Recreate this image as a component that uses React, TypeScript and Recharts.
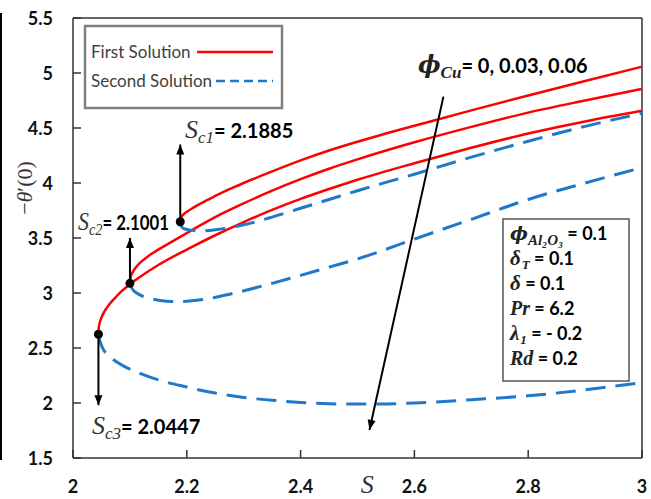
import React from "react";
import { ComposedChart, Line, XAxis, YAxis, ReferenceLine, ReferenceDot } from "recharts";

type P = { s: number; v: number };

// ---------- axis ticks ----------
const xTicks = [2, 2.2, 2.4, 2.6, 2.8, 3];
const yTicks = [1.5, 2, 2.5, 3, 3.5, 4, 4.5, 5, 5.5];

// ---------- first solutions (red, solid) ----------
const firstSolutionSc1: P[] = [
  { s: 2.1885, v: 3.648 }, { s: 2.189, v: 3.672 }, { s: 2.191, v: 3.695 }, { s: 2.195, v: 3.718 },
  { s: 2.2, v: 3.738 }, { s: 2.21, v: 3.772 }, { s: 2.225, v: 3.816 }, { s: 2.25, v: 3.882 },
  { s: 2.275, v: 3.944 }, { s: 2.3, v: 4.0 }, { s: 2.35, v: 4.105 }, { s: 2.4, v: 4.205 },
  { s: 2.45, v: 4.295 }, { s: 2.5, v: 4.375 }, { s: 2.55, v: 4.45 }, { s: 2.6, v: 4.52 },
  { s: 2.7, v: 4.66 }, { s: 2.8, v: 4.795 }, { s: 2.9, v: 4.927 }, { s: 3, v: 5.057 },
];
const firstSolutionSc2: P[] = [
  { s: 2.1001, v: 3.088 }, { s: 2.1006, v: 3.12 }, { s: 2.102, v: 3.155 }, { s: 2.105, v: 3.19 },
  { s: 2.11, v: 3.23 }, { s: 2.12, v: 3.285 }, { s: 2.135, v: 3.345 }, { s: 2.155, v: 3.41 },
  { s: 2.18, v: 3.485 }, { s: 2.21, v: 3.575 }, { s: 2.25, v: 3.69 }, { s: 2.3, v: 3.815 },
  { s: 2.35, v: 3.93 }, { s: 2.4, v: 4.035 }, { s: 2.45, v: 4.13 }, { s: 2.5, v: 4.215 },
  { s: 2.6, v: 4.37 }, { s: 2.7, v: 4.51 }, { s: 2.8, v: 4.64 }, { s: 2.9, v: 4.75 }, { s: 3, v: 4.855 },
];
const firstSolutionSc3: P[] = [
  { s: 2.0447, v: 2.625 }, { s: 2.0452, v: 2.68 }, { s: 2.047, v: 2.73 }, { s: 2.05, v: 2.775 },
  { s: 2.055, v: 2.83 }, { s: 2.062, v: 2.885 }, { s: 2.072, v: 2.945 }, { s: 2.085, v: 3.015 },
  { s: 2.1, v: 3.08 }, { s: 2.12, v: 3.155 }, { s: 2.15, v: 3.255 }, { s: 2.2, v: 3.395 },
  { s: 2.25, v: 3.525 }, { s: 2.3, v: 3.645 }, { s: 2.35, v: 3.755 }, { s: 2.4, v: 3.855 },
  { s: 2.45, v: 3.945 }, { s: 2.5, v: 4.03 }, { s: 2.6, v: 4.18 }, { s: 2.7, v: 4.32 },
  { s: 2.8, v: 4.45 }, { s: 2.9, v: 4.56 }, { s: 3, v: 4.657 },
];

// ---------- second solutions (blue, dashed) ----------
const secondSolutionSc1: P[] = [
  { s: 2.1885, v: 3.648 }, { s: 2.19, v: 3.61 }, { s: 2.195, v: 3.585 }, { s: 2.21, v: 3.57 },
  { s: 2.225, v: 3.565 }, { s: 2.25, v: 3.575 }, { s: 2.3, v: 3.62 }, { s: 2.35, v: 3.69 },
  { s: 2.4, v: 3.77 }, { s: 2.45, v: 3.85 }, { s: 2.5, v: 3.93 }, { s: 2.6, v: 4.08 },
  { s: 2.7, v: 4.235 }, { s: 2.8, v: 4.38 }, { s: 2.9, v: 4.515 }, { s: 3, v: 4.634 },
];
const secondSolutionSc2: P[] = [
  { s: 2.1001, v: 3.088 }, { s: 2.104, v: 3.04 }, { s: 2.112, v: 3.0 }, { s: 2.125, v: 2.965 },
  { s: 2.15, v: 2.935 }, { s: 2.175, v: 2.922 }, { s: 2.2, v: 2.925 }, { s: 2.24, v: 2.95 },
  { s: 2.28, v: 2.995 }, { s: 2.33, v: 3.06 }, { s: 2.4, v: 3.16 }, { s: 2.45, v: 3.235 },
  { s: 2.5, v: 3.31 }, { s: 2.6, v: 3.49 }, { s: 2.7, v: 3.67 }, { s: 2.8, v: 3.85 },
  { s: 2.9, v: 4.0 }, { s: 3, v: 4.14 },
];
const secondSolutionSc3: P[] = [
  { s: 2.0447, v: 2.625 }, { s: 2.047, v: 2.57 }, { s: 2.052, v: 2.5 }, { s: 2.06, v: 2.44 },
  { s: 2.075, v: 2.38 }, { s: 2.095, v: 2.32 }, { s: 2.12, v: 2.265 }, { s: 2.15, v: 2.21 },
  { s: 2.2, v: 2.145 }, { s: 2.25, v: 2.09 }, { s: 2.3, v: 2.05 }, { s: 2.35, v: 2.025 },
  { s: 2.4, v: 2.005 }, { s: 2.45, v: 1.993 }, { s: 2.5, v: 1.99 }, { s: 2.55, v: 1.992 },
  { s: 2.6, v: 2.0 }, { s: 2.7, v: 2.03 }, { s: 2.8, v: 2.065 }, { s: 2.9, v: 2.12 }, { s: 3, v: 2.185 },
];

// ---------- critical points and annotation arrows ----------
const criticalPoints: P[] = [
  { s: 2.1885, v: 3.648 },
  { s: 2.1001, v: 3.088 },
  { s: 2.0447, v: 2.625 },
];
const sc1Arrow: P[] = [{ s: 2.1885, v: 3.648 }, { s: 2.1885, v: 4.35 }];
const sc2Arrow: P[] = [{ s: 2.1001, v: 3.088 }, { s: 2.1001, v: 3.5 }];
const sc3Arrow: P[] = [{ s: 2.0447, v: 2.625 }, { s: 2.0447, v: 1.98 }];
const phiArrow: P[] = [{ s: 2.651, v: 4.785 }, { s: 2.521, v: 1.755 }];

// ---------- text ----------
const sc1Value = "2.1885";
const sc2Value = "2.1001";
const sc3Value = "2.0447";
const phiCuValues = "0, 0.03, 0.06";

const RED = "#ff0000";
const BLUE = "#1f78c8";
const LATO = "Lato, 'Noto Sans', sans-serif";
const SERIF = "'Liberation Serif', 'DejaVu Serif', serif";
const DJS = "'DejaVu Serif', serif";

function ArrowHead(p: any) {
  const { cx, cy, index, points } = p;
  if (index !== 1 || cx == null || cy == null) return <g key={p.key} />;
  let ang = -Math.PI / 2;
  if (points && points.length > 1) {
    ang = Math.atan2(points[1].y - points[0].y, points[1].x - points[0].x);
  }
  const L = 10, W = 4;
  const c = Math.cos(ang), s = Math.sin(ang);
  const bx = cx - L * c, by = cy - L * s;
  const pts = `${cx},${cy} ${bx - s * W},${by + c * W} ${bx + s * W},${by - c * W}`;
  return <polygon key={p.key} points={pts} fill="#000" />;
}

function CritDot(p: any) {
  if (p.cx == null || p.cy == null) return <g key={p.key} />;
  return <circle key={p.key} cx={p.cx} cy={p.cy} r={4.5} fill="#000" />;
}

const XTick = (p: any) => (
  <text x={p.x} y={p.y} dy={13} textAnchor="middle" fontFamily={LATO} fontWeight={700} fontSize={18} fill="#111">
    {p.payload.value}
  </text>
);
const YTick = (p: any) => (
  <text x={p.x} y={p.y} dy={7} textAnchor="end" fontFamily={LATO} fontWeight={700} fontSize={18} fill="#111">
    {p.payload.value}
  </text>
);

const YLabel = (p: any) => {
  const vb = p && p.viewBox && p.viewBox.x != null ? p.viewBox : { x: 13, y: 18, width: 60, height: 440 };
  const x = vb.x + 11;
  const y = vb.y + 170;
  return (
    <text x={x} y={y} transform={`rotate(-90 ${x} ${y})`} textAnchor="middle" dominantBaseline="central"
      fontFamily={SERIF} fontSize={22} fill="#333">
      <tspan>−</tspan><tspan fontStyle="italic">θ</tspan><tspan>′(0)</tspan>
    </text>
  );
};
const XLabel = (p: any) => {
  const vb = p && p.viewBox && p.viewBox.x != null ? p.viewBox : { x: 73, y: 458, width: 569, height: 30 };
  return (
    <text x={vb.x + vb.width * 0.517} y={vb.y + 35} textAnchor="middle" fontFamily={SERIF} fontStyle="italic"
      fontSize={26} fill="#333">S</text>
  );
};

function ScLabel({ cx, cy, sub, val, sx = 1 }: any) {
  if (cx == null || cy == null) return <g />;
  return (
    <g transform={`translate(${cx},${cy}) scale(${sx},1)`}>
      <text x={0} y={0} fontFamily={LATO} fontWeight={700} fontSize={20} fill="#000">
        <tspan fontFamily={SERIF} fontStyle="italic" fontWeight={400} fontSize={26} fill="#333">S</tspan>
        <tspan fontFamily={SERIF} fontStyle="italic" fontWeight={400} fontSize={17} fill="#333" dy={5}>{sub}</tspan>
        <tspan dy={-5}>{`= ${val}`}</tspan>
      </text>
    </g>
  );
}

function PhiLabel({ cx, cy }: any) {
  if (cx == null || cy == null) return <g />;
  return (
    <text x={cx} y={cy} fontFamily={LATO} fontWeight={700} fontSize={20} fill="#000">
      <tspan fontFamily={DJS} fontStyle="italic" fontSize={24} fill="#222">ϕ</tspan>
      <tspan fontFamily={SERIF} fontStyle="italic" fontWeight={700} fontSize={17} fill="#222" dy={5}>Cu</tspan>
      <tspan dy={-5}>{`= ${phiCuValues}`}</tspan>
    </text>
  );
}

function LegendBox({ cx, cy }: any) {
  if (cx == null || cy == null) return <g />;
  return (
    <g transform={`translate(${cx},${cy})`}>
      <rect x={0} y={0} width={197} height={82} fill="#fff" stroke="#7f7f7f" strokeWidth={2.5} />
      <text x={6} y={32.5} fontFamily={LATO} fontSize={17} fill="#404040">First Solution</text>
      <line x1={112} x2={188} y1={26} y2={26} stroke={RED} strokeWidth={2.5} />
      <text x={6} y={61} fontFamily={LATO} fontSize={17} fill="#404040">Second Solution</text>
      <line x1={131} x2={188} y1={55} y2={55} stroke={BLUE} strokeWidth={2.5} strokeDasharray="9 5" />
    </g>
  );
}

function ParamBox({ cx, cy }: any) {
  if (cx == null || cy == null) return <g />;
  const sym = { fontFamily: SERIF, fontStyle: "italic" as const, fontWeight: 700, fill: "#222" };
  const num = { fontFamily: LATO, fontWeight: 700, fontSize: 18, fill: "#000" };
  const base = (i: number) => 21 + 25 * i;
  return (
    <g transform={`translate(${cx},${cy})`}>
      <rect x={0} y={0} width={126} height={162} fill="#fff" stroke="#555" strokeWidth={1.5} />
      <text x={7} y={base(0)}>
        <tspan fontFamily={DJS} fontStyle="italic" fontWeight={700} fontSize={19} fill="#222">ϕ</tspan>
        <tspan {...sym} fontSize={15} dy={5}>Al₂O₃</tspan>
        <tspan {...num} dy={-5} dx={4}>{"= 0.1"}</tspan>
      </text>
      <text x={7} y={base(1)}>
        <tspan {...sym} fontSize={21}>δ</tspan>
        <tspan {...sym} fontSize={13} dy={4} dx={1}>T</tspan>
        <tspan {...num} dy={-4}>{" = 0.1"}</tspan>
      </text>
      <text x={7} y={base(2)}>
        <tspan {...sym} fontSize={21}>δ</tspan>
        <tspan {...num}>{" = 0.1"}</tspan>
      </text>
      <text x={7} y={base(3)}>
        <tspan {...sym} fontSize={20}>Pr</tspan>
        <tspan {...num}>{" = 6.2"}</tspan>
      </text>
      <text x={7} y={base(4)}>
        <tspan {...sym} fontSize={21}>λ</tspan>
        <tspan {...sym} fontSize={13} dy={4} dx={1}>1</tspan>
        <tspan {...num} dy={-4}>{" = - 0.2"}</tspan>
      </text>
      <text x={7} y={base(5)}>
        <tspan {...sym} fontSize={20}>Rd</tspan>
        <tspan {...num}>{" = 0.2"}</tspan>
      </text>
    </g>
  );
}

const branches: { data: P[]; first: boolean; key: string }[] = [
  { data: firstSolutionSc1, first: true, key: "f1" },
  { data: firstSolutionSc2, first: true, key: "f2" },
  { data: firstSolutionSc3, first: true, key: "f3" },
  { data: secondSolutionSc1, first: false, key: "s1" },
  { data: secondSolutionSc2, first: false, key: "s2" },
  { data: secondSolutionSc3, first: false, key: "s3" },
];
const arrows: { data: P[]; key: string }[] = [
  { data: sc1Arrow, key: "a1" },
  { data: sc2Arrow, key: "a2" },
  { data: sc3Arrow, key: "a3" },
  { data: phiArrow, key: "a4" },
];

export default function App() {
  const axisStroke = { stroke: "#333", strokeWidth: 1.5 };
  return (
    <div style={{ position: "absolute", left: 0, top: 0, width: 651, height: 499, background: "#fff" }}>
      <div style={{ position: "absolute", left: 0, top: 13, width: 2, height: 447, background: "#000" }} />
      <ComposedChart width={651} height={499} margin={{ top: 18, right: 9, bottom: 11, left: 13 }}>
        <XAxis
          type="number"
          dataKey="s"
          domain={[2, 3]}
          ticks={xTicks}
          allowDataOverflow
          height={30}
          tickSize={-8}
          tickMargin={30}
          tick={XTick}
          axisLine={axisStroke}
          tickLine={axisStroke}
          label={XLabel}
        />
        <YAxis
          type="number"
          domain={[1.5, 5.5]}
          ticks={yTicks}
          allowDataOverflow
          width={60}
          tickSize={-8}
          tickMargin={28}
          tick={YTick}
          axisLine={axisStroke}
          tickLine={axisStroke}
          label={YLabel}
        />
        <ReferenceLine y={5.5} stroke="#333" strokeWidth={1.5} />
        <ReferenceLine x={3} stroke="#333" strokeWidth={1.5} />
        {branches.map((b) => (
          <Line
            key={b.key}
            data={b.data}
            dataKey="v"
            type="monotone"
            stroke={b.first ? RED : BLUE}
            strokeWidth={b.first ? 2.5 : 3}
            strokeDasharray={b.first ? undefined : "20 10"}
            dot={false}
            activeDot={false}
            isAnimationActive={false}
          />
        ))}
        {arrows.map((a) => (
          <Line
            key={a.key}
            data={a.data}
            dataKey="v"
            type="linear"
            stroke="#000"
            strokeWidth={2}
            dot={ArrowHead}
            activeDot={false}
            isAnimationActive={false}
          />
        ))}
        <Line
          data={criticalPoints}
          dataKey="v"
          type="linear"
          stroke="none"
          dot={CritDot}
          activeDot={false}
          isAnimationActive={false}
        />
        <ReferenceDot x={2.0211} y={5.4273} r={0} ifOverflow="visible" shape={(p: any) => <LegendBox cx={p.cx} cy={p.cy} />} />
        <ReferenceDot x={2.7557} y={3.6727} r={0} ifOverflow="visible" shape={(p: any) => <ParamBox cx={p.cx} cy={p.cy} />} />
        <ReferenceDot x={2.1968} y={4.4136} r={0} ifOverflow="visible"
          shape={(p: any) => <ScLabel cx={p.cx} cy={p.cy} sub="c1" val={sc1Value} />} />
        <ReferenceDot x={2.0088} y={3.5727} r={0} ifOverflow="visible"
          shape={(p: any) => <ScLabel cx={p.cx} cy={p.cy} sub="c2" val={sc2Value} sx={0.84} />} />
        <ReferenceDot x={2.0334} y={1.7227} r={0} ifOverflow="visible"
          shape={(p: any) => <ScLabel cx={p.cx} cy={p.cy} sub="c3" val={sc3Value} />} />
        <ReferenceDot x={2.6063} y={5.0} r={0} ifOverflow="visible" shape={(p: any) => <PhiLabel cx={p.cx} cy={p.cy} />} />
      </ComposedChart>
    </div>
  );
}
